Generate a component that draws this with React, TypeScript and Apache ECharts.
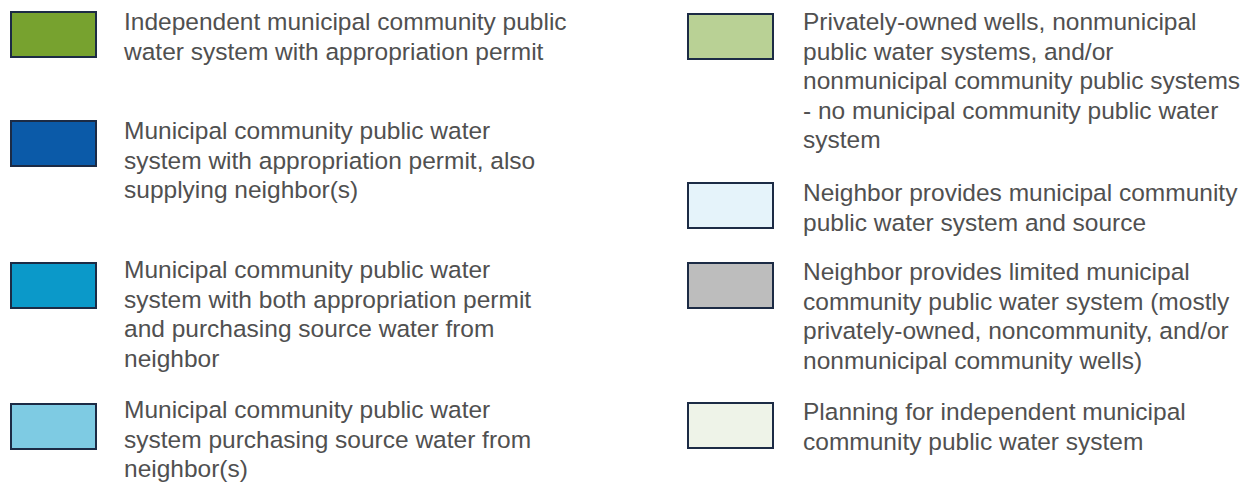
import React, { useEffect, useRef } from "react";
import * as echarts from "echarts";

const leftLabels = [
  "Independent municipal community public\nwater system with appropriation permit",
  "Municipal community public water\nsystem with appropriation permit, also\nsupplying neighbor(s)",
  "Municipal community public water\nsystem with both appropriation permit\nand purchasing source water from\nneighbor",
  "Municipal community public water\nsystem purchasing source water from\nneighbor(s)",
];
const leftColors = ["#77a22f", "#0b5aa8", "#0b99c9", "#7ecbe3"];

const rightLabels = [
  "Privately-owned wells, nonmunicipal\npublic water systems, and/or\nnonmunicipal community public systems\n- no municipal community public water\nsystem",
  "Neighbor provides municipal community\npublic water system and source",
  "Neighbor provides limited municipal\ncommunity public water system (mostly\nprivately-owned, noncommunity, and/or\nnonmunicipal community wells)",
  "Planning for independent municipal\ncommunity public water system",
];
const rightColors = ["#b9d195", "#e5f3fa", "#bdbdbd", "#eef3e8"];

// layout
const LEFT_BOX_X = 11;
const LEFT_TEXT_X = 124;
const LEFT_BOX_TOPS = [12, 121, 263, 404];
const LEFT_TEXT_TOPS = [7, 116, 255, 395];
const RIGHT_BOX_X = 688;
const RIGHT_TEXT_X = 803;
const RIGHT_BOX_TOPS = [14, 183, 263, 403];
const RIGHT_TEXT_TOPS = [7, 178, 257, 397];
const BOX_W = 85;
const BOX_H = 45;

export default function App() {
  const ref = useRef<HTMLDivElement>(null);
  useEffect(() => {
    document.body.style.margin = "0";
    const chart = echarts.init(ref.current!, null, { renderer: "svg" });
    const elements: any[] = [];
    const addCol = (labels: string[], colors: string[], bx: number, tx: number, bTops: number[], tTops: number[]) => {
      labels.forEach((lab, i) => {
        elements.push({
          type: "rect",
          shape: { x: bx, y: bTops[i], width: BOX_W, height: BOX_H },
          style: { fill: colors[i], stroke: "#1c2b45", lineWidth: 2 },
        });
        elements.push({
          type: "text",
          x: tx,
          y: tTops[i],
          style: {
            text: lab,
            fill: "#505050",
            font: '24.5px "Liberation Sans", Arial, sans-serif',
            lineHeight: 29.5,
            verticalAlign: "top",
            align: "left",
          },
        });
      });
    };
    addCol(leftLabels, leftColors, LEFT_BOX_X, LEFT_TEXT_X, LEFT_BOX_TOPS, LEFT_TEXT_TOPS);
    addCol(rightLabels, rightColors, RIGHT_BOX_X, RIGHT_TEXT_X, RIGHT_BOX_TOPS, RIGHT_TEXT_TOPS);
    chart.setOption({
      animation: false,
      backgroundColor: "#ffffff",
      graphic: { elements },
    });
    return () => chart.dispose();
  }, []);
  return <div ref={ref} style={{ width: 1257, height: 485 }} />;
}
